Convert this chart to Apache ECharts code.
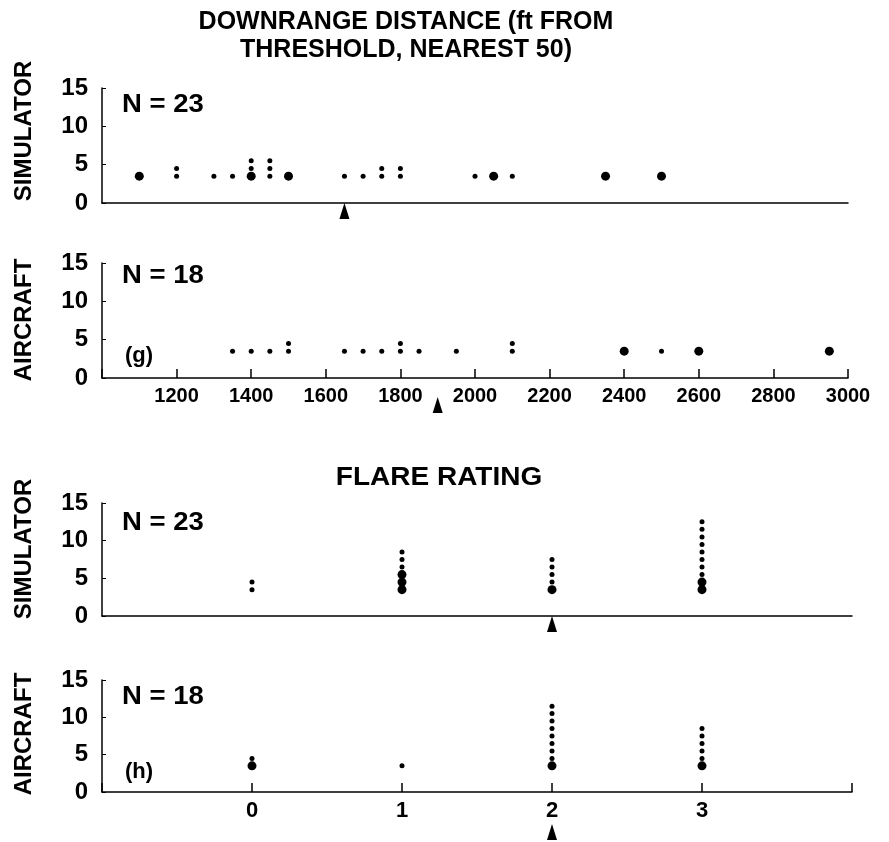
<!DOCTYPE html>
<html>
<head>
<meta charset="utf-8">
<script src="https://cdn.jsdelivr.net/npm/echarts@6/dist/echarts.min.js"></script>
<style>
  html, body { margin: 0; padding: 0; background: #fff; }
  #main { width: 889px; height: 842px; }
</style>
</head>
<body>
<div id="main"></div>
<script>
// downrange distance, simulator (N = 23)
var simDistX   = [1100, 1200, 1300, 1350, 1400, 1450, 1500, 1650, 1700, 1750, 1800, 2000, 2050, 2100, 2350, 2500];
var simDistN   = [1, 2, 1, 1, 3, 3, 1, 1, 1, 2, 2, 1, 1, 1, 1, 1];
var simDistBig = [1, 0, 0, 0, 1, 0, 1, 0, 0, 0, 0, 0, 1, 0, 1, 1];
// downrange distance, aircraft (N = 18)
var acDistX    = [1350, 1400, 1450, 1500, 1650, 1700, 1750, 1800, 1850, 1950, 2100, 2400, 2500, 2600, 2950];
var acDistN    = [1, 1, 1, 2, 1, 1, 1, 2, 1, 1, 2, 1, 1, 1, 1];
var acDistBig  = [0, 0, 0, 0, 0, 0, 0, 0, 0, 0, 0, 1, 0, 1, 1];
// flare rating
var flareX     = [0, 1, 2, 3];
var simFlareN  = [2, 6, 5, 10];
var simFlareBig = [0, 3, 1, 2];
var acFlareN   = [2, 1, 9, 6];
var acFlareBig = [1, 0, 1, 1];
// medians (arrows)
var medians = { simDist: 1650, acDist: 1900, simFlare: 2, acFlare: 2 };
var distTicks = [1200, 1400, 1600, 1800, 2000, 2200, 2400, 2600, 2800, 3000];
var yTicks = [0, 5, 10, 15];

var FONT = 'Liberation Sans';
var stackBase = 3.5, stackStep = 1;

// turn counts into stacked dots
function stack(xs, ns, bigs) {
  var small = [], big = [];
  for (var i = 0; i < xs.length; i++) {
    for (var k = 0; k < ns[i]; k++) {
      var p = [xs[i], stackBase + k * stackStep];
      if (k < bigs[i]) big.push(p); else small.push(p);
    }
  }
  return { small: small, big: big };
}

var grids = [
  { left: 102, right: 41, top: 88, height: 115 },
  { left: 102, right: 41, top: 263, height: 115 },
  { left: 102, right: 37, top: 503, height: 113 },
  { left: 102, right: 37, top: 680, height: 112 }
];

function yAx(idx) {
  return {
    gridIndex: idx, type: 'value', min: 0, max: 15, interval: 5,
    axisLine: { show: true, onZero: false, lineStyle: { color: '#000', width: 1.5 } },
    axisTick: { show: true, inside: true, length: 4, lineStyle: { color: '#000' } },
    splitLine: { show: false },
    axisLabel: { fontFamily: FONT, fontWeight: 'bold', fontSize: 24, color: '#000', margin: 14,
      formatter: function (v) { return yTicks.indexOf(v) >= 0 ? String(v) : ''; } }
  };
}

function xAx(idx, min, max, interval, showLabels, labelList) {
  return {
    gridIndex: idx, type: 'value', min: min, max: max, interval: interval,
    axisLine: { show: true, onZero: false, lineStyle: { color: '#000', width: 1.5 } },
    axisTick: { show: showLabels, inside: true, length: 9, lineStyle: { color: '#000', width: 1.5 } },
    splitLine: { show: false },
    axisLabel: { show: showLabels, fontFamily: FONT, fontWeight: 'bold', fontSize: idx === 3 ? 22 : 20, color: '#000', margin: 8,
      formatter: function (v) { return labelList.indexOf(v) >= 0 ? String(v) : ''; } }
  };
}

function dots(idx, set) {
  return [
    { type: 'scatter', xAxisIndex: idx, yAxisIndex: idx, symbol: 'circle', symbolSize: 5,
      itemStyle: { color: '#000', opacity: 1 }, data: set.small, silent: true },
    { type: 'scatter', xAxisIndex: idx, yAxisIndex: idx, symbol: 'circle', symbolSize: 9,
      itemStyle: { color: '#000', opacity: 1 }, data: set.big, silent: true }
  ];
}

function arrow(idx, x, offset) {
  return { type: 'scatter', xAxisIndex: idx, yAxisIndex: idx, symbol: 'triangle',
    symbolSize: [10, 16], symbolOffset: [0, offset], clip: false, silent: true,
    itemStyle: { color: '#000', opacity: 1 }, data: [[x, 0]] };
}

var series = []
  .concat(dots(0, stack(simDistX, simDistN, simDistBig)))
  .concat(dots(1, stack(acDistX, acDistN, acDistBig)))
  .concat(dots(2, stack(flareX, simFlareN, simFlareBig)))
  .concat(dots(3, stack(flareX, acFlareN, acFlareBig)));
series.push(arrow(0, medians.simDist, 8));
series.push(arrow(1, medians.acDist, 27));
series.push(arrow(2, medians.simFlare, 8));
series.push(arrow(3, medians.acFlare, 40));

function txt(x, y, text, size, sx) {
  return { type: 'text', x: x, y: y, scaleX: sx || 1,
    style: { text: text, fontFamily: FONT, fontWeight: 'bold', fontSize: size, fill: '#000', verticalAlign: 'middle' } };
}
function sideName(x, y, text) {
  return { type: 'text', x: x, y: y, rotation: Math.PI / 2,
    style: { text: text, fontFamily: FONT, fontWeight: 'bold', fontSize: 24, fill: '#000', align: 'center', verticalAlign: 'middle' } };
}

var myChart = echarts.init(document.getElementById('main'), null, { renderer: 'canvas' });
var option = {
  backgroundColor: '#fff',
  animation: false,
  grid: grids,
  xAxis: [
    xAx(0, 1000, 3000, 200, false, distTicks),
    xAx(1, 1000, 3000, 200, true, distTicks),
    xAx(2, -1, 4, 1, false, flareX),
    xAx(3, -1, 4, 1, true, flareX)
  ],
  yAxis: [yAx(0), yAx(1), yAx(2), yAx(3)],
  graphic: [
    { type: 'text', x: 406, y: 8, style: { text: 'DOWNRANGE DISTANCE (ft FROM\nTHRESHOLD, NEAREST 50)',
      fontFamily: FONT, fontWeight: 'bold', fontSize: 25, fill: '#000', align: 'center', lineHeight: 28 } },
    { type: 'text', x: 439, y: 478, scaleX: 1.12, style: { text: 'FLARE RATING',
      fontFamily: FONT, fontWeight: 'bold', fontSize: 25, fill: '#000', align: 'center', verticalAlign: 'middle' } },
    sideName(24, 131, 'SIMULATOR'),
    sideName(24, 320, 'AIRCRAFT'),
    sideName(24, 549, 'SIMULATOR'),
    sideName(24, 734, 'AIRCRAFT'),
    txt(122, 105, 'N = 23', 25, 1.1),
    txt(122, 276, 'N = 18', 25, 1.1),
    txt(125, 356, '(g)', 22),
    txt(122, 523, 'N = 23', 25, 1.1),
    txt(122, 697, 'N = 18', 25, 1.1),
    txt(125, 772, '(h)', 22)
  ],
  series: series
};
myChart.setOption(option);
</script>
</body>
</html>
